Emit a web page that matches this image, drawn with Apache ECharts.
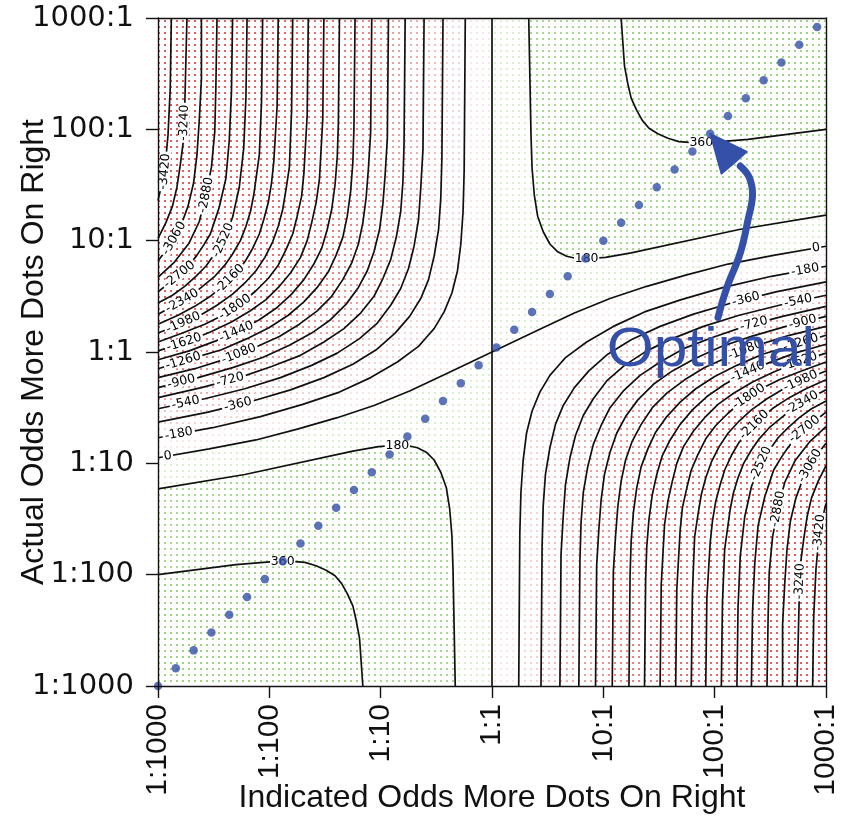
<!DOCTYPE html>
<html><head><meta charset="utf-8">
<script src="https://cdn.jsdelivr.net/npm/echarts/dist/echarts.min.js"></script>
<style>html,body{margin:0;padding:0;background:#fff}#chart{width:843px;height:819px}</style>
</head><body><div id="chart"></div>
<script>
// ---- axis ticks (log10 of odds) ----
const oddsTicks = [-3, -2, -1, 0, 1, 2, 3];
const oddsTickLabels = ['1:1000', '1:100', '1:10', '1:1', '10:1', '100:1', '1000:1'];

// ---- contour levels (points) ----
const contourLevels = [-3420, -3240, -3060, -2880, -2700, -2520, -2340, -2160, -1980, -1800, -1620, -1440, -1260, -1080, -900, -720, -540, -360, -180, 0, 180, 360];

// contour lines left of 1:1 indicated odds, [log10 indicated odds, log10 actual odds]
const westCurves = [
[[-3.00,1.36],[-2.94,1.62],[-2.91,1.95],[-2.89,2.37],[-2.88,3.00]],
[[-3.00,1.02],[-2.93,1.16],[-2.87,1.31],[-2.83,1.48],[-2.80,1.68],[-2.77,1.91],[-2.76,2.19],[-2.74,3.00]],
[[-3.00,0.82],[-2.89,0.96],[-2.80,1.12],[-2.73,1.31],[-2.68,1.52],[-2.65,1.77],[-2.63,2.07],[-2.61,2.45],[-2.61,3.00]],
[[-3.00,0.67],[-2.85,0.81],[-2.72,0.98],[-2.63,1.17],[-2.57,1.40],[-2.52,1.66],[-2.49,1.98],[-2.48,2.39],[-2.47,3.00]],
[[-3.00,0.54],[-2.90,0.62],[-2.80,0.70],[-2.72,0.78],[-2.65,0.87],[-2.59,0.96],[-2.53,1.06],[-2.49,1.18],[-2.45,1.30],[-2.39,1.56],[-2.36,1.90],[-2.34,2.34],[-2.33,3.00]],
[[-3.00,0.44],[-2.87,0.51],[-2.76,0.59],[-2.66,0.68],[-2.57,0.77],[-2.50,0.87],[-2.43,0.97],[-2.38,1.08],[-2.33,1.21],[-2.27,1.48],[-2.23,1.83],[-2.21,2.29],[-2.20,3.00]],
[[-3.00,0.34],[-2.85,0.42],[-2.71,0.50],[-2.60,0.59],[-2.49,0.68],[-2.40,0.78],[-2.33,0.88],[-2.26,1.00],[-2.21,1.13],[-2.17,1.26],[-2.14,1.41],[-2.09,1.77],[-2.07,2.25],[-2.06,3.00]],
[[-3.00,0.25],[-2.82,0.33],[-2.67,0.41],[-2.53,0.50],[-2.41,0.60],[-2.31,0.70],[-2.22,0.81],[-2.15,0.93],[-2.09,1.06],[-2.05,1.19],[-2.01,1.34],[-1.98,1.52],[-1.96,1.71],[-1.93,2.21],[-1.92,3.00]],
[[-3.00,0.17],[-2.80,0.25],[-2.62,0.33],[-2.47,0.42],[-2.33,0.52],[-2.22,0.62],[-2.12,0.73],[-2.04,0.85],[-1.97,0.99],[-1.92,1.13],[-1.88,1.28],[-1.85,1.46],[-1.82,1.66],[-1.80,2.17],[-1.79,3.00]],
[[-3.00,0.09],[-2.78,0.17],[-2.58,0.25],[-2.40,0.34],[-2.25,0.44],[-2.12,0.55],[-2.01,0.66],[-1.92,0.78],[-1.85,0.92],[-1.79,1.06],[-1.75,1.22],[-1.71,1.40],[-1.69,1.60],[-1.66,2.13],[-1.65,3.00]],
[[-3.00,0.01],[-2.75,0.09],[-2.53,0.18],[-2.34,0.27],[-2.17,0.37],[-2.03,0.47],[-1.91,0.59],[-1.81,0.71],[-1.72,0.85],[-1.66,1.00],[-1.62,1.16],[-1.58,1.34],[-1.55,1.55],[-1.52,2.09],[-1.51,3.00]],
[[-3.00,-0.07],[-2.72,0.01],[-2.48,0.10],[-2.27,0.19],[-2.09,0.29],[-1.93,0.40],[-1.80,0.52],[-1.69,0.65],[-1.60,0.79],[-1.53,0.93],[-1.48,1.10],[-1.44,1.28],[-1.41,1.50],[-1.39,1.75],[-1.38,2.05],[-1.37,3.00]],
[[-3.00,-0.15],[-2.70,-0.06],[-2.43,0.02],[-2.20,0.12],[-2.00,0.22],[-1.83,0.33],[-1.69,0.45],[-1.57,0.58],[-1.47,0.72],[-1.40,0.87],[-1.34,1.03],[-1.30,1.22],[-1.27,1.44],[-1.25,1.70],[-1.24,2.01],[-1.23,3.00]],
[[-3.00,-0.23],[-2.67,-0.15],[-2.38,-0.06],[-2.13,0.04],[-1.91,0.14],[-1.73,0.25],[-1.57,0.37],[-1.44,0.50],[-1.34,0.65],[-1.26,0.80],[-1.20,0.97],[-1.16,1.16],[-1.13,1.39],[-1.11,1.65],[-1.09,1.97],[-1.08,3.00]],
[[-3.00,-0.32],[-2.64,-0.23],[-2.33,-0.14],[-2.06,-0.05],[-1.82,0.06],[-1.62,0.17],[-1.45,0.29],[-1.31,0.43],[-1.20,0.58],[-1.12,0.73],[-1.06,0.90],[-1.01,1.10],[-0.98,1.33],[-0.96,1.59],[-0.94,1.92],[-0.93,3.00]],
[[-3.00,-0.41],[-2.61,-0.32],[-2.27,-0.23],[-1.98,-0.13],[-1.72,-0.03],[-1.51,0.09],[-1.33,0.21],[-1.18,0.35],[-1.06,0.50],[-0.98,0.66],[-0.91,0.83],[-0.86,1.03],[-0.82,1.26],[-0.80,1.53],[-0.79,1.87],[-0.78,3.00]],
[[-3.00,-0.51],[-2.58,-0.42],[-2.22,-0.33],[-1.90,-0.23],[-1.62,-0.12],[-1.39,-0.01],[-1.19,0.12],[-1.03,0.26],[-0.91,0.42],[-0.82,0.57],[-0.75,0.75],[-0.70,0.95],[-0.66,1.19],[-0.64,1.47],[-0.62,1.82],[-0.61,3.00]],
[[-3.00,-0.63],[-2.55,-0.54],[-2.15,-0.44],[-1.81,-0.34],[-1.51,-0.23],[-1.25,-0.11],[-1.04,0.02],[-0.87,0.17],[-0.74,0.32],[-0.64,0.48],[-0.57,0.65],[-0.52,0.86],[-0.48,1.10],[-0.46,1.38],[-0.45,1.74],[-0.44,3.00]],
[[-3.00,-0.77],[-2.51,-0.68],[-2.08,-0.58],[-1.70,-0.47],[-1.37,-0.36],[-1.09,-0.23],[-0.85,-0.09],[-0.66,0.05],[-0.59,0.13],[-0.52,0.21],[-0.43,0.36],[-0.36,0.53],[-0.31,0.73],[-0.28,0.97],[-0.26,1.26],[-0.25,1.63],[-0.24,3.00]],
[[-3.00,-0.95],[-2.54,-0.87],[-2.12,-0.79],[-1.74,-0.69],[-1.39,-0.59],[-1.06,-0.48],[-0.74,-0.35],[-0.42,-0.20],[0.00,0.00]],
[[-3.00,-1.23],[-2.22,-1.10],[-1.25,-0.89],[-1.02,-0.85],[-0.88,-0.84],[-0.76,-0.84],[-0.67,-0.86],[-0.59,-0.90],[-0.52,-0.97],[-0.46,-1.08],[-0.41,-1.22],[-0.38,-1.41],[-0.36,-1.65],[-0.35,-1.96],[-0.33,-3.00]],
[[-3.00,-2.00],[-2.30,-1.91],[-1.94,-1.88],[-1.80,-1.88],[-1.68,-1.89],[-1.58,-1.92],[-1.49,-1.96],[-1.41,-2.01],[-1.35,-2.08],[-1.30,-2.17],[-1.25,-2.28],[-1.22,-2.41],[-1.19,-2.57],[-1.16,-3.00]]
];

// contour lines right of 1:1 indicated odds
const eastCurves = [
[[3.00,-1.36],[2.94,-1.62],[2.91,-1.95],[2.89,-2.37],[2.88,-3.00]],
[[3.00,-1.02],[2.93,-1.16],[2.87,-1.31],[2.83,-1.48],[2.80,-1.68],[2.77,-1.91],[2.76,-2.19],[2.74,-3.00]],
[[3.00,-0.82],[2.89,-0.96],[2.80,-1.12],[2.73,-1.31],[2.68,-1.52],[2.65,-1.77],[2.63,-2.07],[2.61,-2.45],[2.61,-3.00]],
[[3.00,-0.67],[2.85,-0.81],[2.72,-0.98],[2.63,-1.17],[2.57,-1.40],[2.52,-1.66],[2.49,-1.98],[2.48,-2.39],[2.47,-3.00]],
[[3.00,-0.54],[2.90,-0.62],[2.80,-0.70],[2.72,-0.78],[2.65,-0.87],[2.59,-0.96],[2.53,-1.06],[2.49,-1.18],[2.45,-1.30],[2.39,-1.56],[2.36,-1.90],[2.34,-2.34],[2.33,-3.00]],
[[3.00,-0.44],[2.87,-0.51],[2.76,-0.59],[2.66,-0.68],[2.57,-0.77],[2.50,-0.87],[2.43,-0.97],[2.38,-1.08],[2.33,-1.21],[2.27,-1.48],[2.23,-1.83],[2.21,-2.29],[2.20,-3.00]],
[[3.00,-0.34],[2.85,-0.42],[2.71,-0.50],[2.60,-0.59],[2.49,-0.68],[2.40,-0.78],[2.33,-0.88],[2.26,-1.00],[2.21,-1.13],[2.17,-1.26],[2.14,-1.41],[2.09,-1.77],[2.07,-2.25],[2.06,-3.00]],
[[3.00,-0.25],[2.82,-0.33],[2.67,-0.41],[2.53,-0.50],[2.41,-0.60],[2.31,-0.70],[2.22,-0.81],[2.15,-0.93],[2.09,-1.06],[2.05,-1.19],[2.01,-1.34],[1.98,-1.52],[1.96,-1.71],[1.93,-2.21],[1.92,-3.00]],
[[3.00,-0.17],[2.80,-0.25],[2.62,-0.33],[2.47,-0.42],[2.33,-0.52],[2.22,-0.62],[2.12,-0.73],[2.04,-0.85],[1.97,-0.99],[1.92,-1.13],[1.88,-1.28],[1.85,-1.46],[1.82,-1.66],[1.80,-2.17],[1.79,-3.00]],
[[3.00,-0.09],[2.78,-0.17],[2.58,-0.25],[2.40,-0.34],[2.25,-0.44],[2.12,-0.55],[2.01,-0.66],[1.92,-0.78],[1.85,-0.92],[1.79,-1.06],[1.75,-1.22],[1.71,-1.40],[1.69,-1.60],[1.66,-2.13],[1.65,-3.00]],
[[3.00,-0.01],[2.75,-0.09],[2.53,-0.18],[2.34,-0.27],[2.17,-0.37],[2.03,-0.47],[1.91,-0.59],[1.81,-0.71],[1.72,-0.85],[1.66,-1.00],[1.62,-1.16],[1.58,-1.34],[1.55,-1.55],[1.52,-2.09],[1.51,-3.00]],
[[3.00,0.07],[2.72,-0.01],[2.48,-0.10],[2.27,-0.19],[2.09,-0.29],[1.93,-0.40],[1.80,-0.52],[1.69,-0.65],[1.60,-0.79],[1.53,-0.93],[1.48,-1.10],[1.44,-1.28],[1.41,-1.50],[1.39,-1.75],[1.38,-2.05],[1.37,-3.00]],
[[3.00,0.15],[2.70,0.06],[2.43,-0.02],[2.20,-0.12],[2.00,-0.22],[1.83,-0.33],[1.69,-0.45],[1.57,-0.58],[1.47,-0.72],[1.40,-0.87],[1.34,-1.03],[1.30,-1.22],[1.27,-1.44],[1.25,-1.70],[1.24,-2.01],[1.23,-3.00]],
[[3.00,0.23],[2.67,0.15],[2.38,0.06],[2.13,-0.04],[1.91,-0.14],[1.73,-0.25],[1.57,-0.37],[1.44,-0.50],[1.34,-0.65],[1.26,-0.80],[1.20,-0.97],[1.16,-1.16],[1.13,-1.39],[1.11,-1.65],[1.09,-1.97],[1.08,-3.00]],
[[3.00,0.32],[2.64,0.23],[2.33,0.14],[2.06,0.05],[1.82,-0.06],[1.62,-0.17],[1.45,-0.29],[1.31,-0.43],[1.20,-0.58],[1.12,-0.73],[1.06,-0.90],[1.01,-1.10],[0.98,-1.33],[0.96,-1.59],[0.94,-1.92],[0.93,-3.00]],
[[3.00,0.41],[2.61,0.32],[2.27,0.23],[1.98,0.13],[1.72,0.03],[1.51,-0.09],[1.33,-0.21],[1.18,-0.35],[1.06,-0.50],[0.98,-0.66],[0.91,-0.83],[0.86,-1.03],[0.82,-1.26],[0.80,-1.53],[0.79,-1.87],[0.78,-3.00]],
[[3.00,0.51],[2.58,0.42],[2.22,0.33],[1.90,0.23],[1.62,0.12],[1.39,0.01],[1.19,-0.12],[1.03,-0.26],[0.91,-0.42],[0.82,-0.57],[0.75,-0.75],[0.70,-0.95],[0.66,-1.19],[0.64,-1.47],[0.62,-1.82],[0.61,-3.00]],
[[3.00,0.63],[2.55,0.54],[2.15,0.44],[1.81,0.34],[1.51,0.23],[1.25,0.11],[1.04,-0.02],[0.87,-0.17],[0.74,-0.32],[0.64,-0.48],[0.57,-0.65],[0.52,-0.86],[0.48,-1.10],[0.46,-1.38],[0.45,-1.74],[0.44,-3.00]],
[[3.00,0.77],[2.51,0.68],[2.08,0.58],[1.70,0.47],[1.37,0.36],[1.09,0.23],[0.85,0.09],[0.66,-0.05],[0.59,-0.13],[0.52,-0.21],[0.43,-0.36],[0.36,-0.53],[0.31,-0.73],[0.28,-0.97],[0.26,-1.26],[0.25,-1.63],[0.24,-3.00]],
[[3.00,0.95],[2.54,0.87],[2.12,0.79],[1.74,0.69],[1.39,0.59],[1.06,0.48],[0.74,0.35],[0.42,0.20],[0.00,0.00]],
[[3.00,1.23],[2.22,1.10],[1.25,0.89],[1.02,0.85],[0.88,0.84],[0.76,0.84],[0.67,0.86],[0.59,0.90],[0.52,0.97],[0.46,1.08],[0.41,1.22],[0.38,1.41],[0.36,1.65],[0.35,1.96],[0.33,3.00]],
[[3.00,2.00],[2.30,1.91],[1.94,1.88],[1.80,1.88],[1.68,1.89],[1.58,1.92],[1.49,1.96],[1.41,2.01],[1.35,2.08],[1.30,2.17],[1.25,2.28],[1.22,2.41],[1.19,2.57],[1.16,3.00]]
];

// the 0-point contour also runs straight up the 1:1 indicated odds line
const zeroDivider = [[0, -3], [0, 3]];

// where each contour label sits (approximate, snapped onto its line)
const westLabelSpots = [[-2.93,1.62],[-2.78,2.06],[-2.87,1.03],[-2.57,1.41],[-2.82,0.71],[-2.43,1.01],[-2.79,0.47],[-2.37,0.67],[-2.78,0.28],[-2.32,0.42],[-2.78,0.13],[-2.31,0.21],[-2.78,-0.06],[-2.28,0.00],[-2.79,-0.27],[-2.35,-0.26],[-2.75,-0.46],[-2.28,-0.48],[-2.82,-0.70],[-2.91,-0.94],[-0.85,-0.85],[-1.88,-1.88]];
const eastLabelSpots = [[2.93,-1.62],[2.78,-2.06],[2.87,-1.03],[2.57,-1.41],[2.82,-0.71],[2.43,-1.01],[2.79,-0.47],[2.37,-0.67],[2.78,-0.28],[2.32,-0.42],[2.78,-0.13],[2.31,-0.21],[2.78,0.06],[2.28,0.00],[2.79,0.27],[2.35,0.26],[2.75,0.46],[2.28,0.48],[2.82,0.70],[2.91,0.94],[0.85,0.85],[1.88,1.88]];

// blue points: indicated odds equal to actual odds
const dotsIndicated = [-3.00,-2.84,-2.68,-2.52,-2.36,-2.20,-2.04,-1.88,-1.72,-1.56,-1.40,-1.24,-1.08,-0.92,-0.76,-0.60,-0.44,-0.28,-0.12,0.04,0.20,0.36,0.52,0.68,0.84,1.00,1.16,1.32,1.48,1.64,1.80,1.96,2.12,2.28,2.44,2.60,2.76,2.92];
const dotsActual    = [-3.00,-2.84,-2.68,-2.52,-2.36,-2.20,-2.04,-1.88,-1.72,-1.56,-1.40,-1.24,-1.08,-0.92,-0.76,-0.60,-0.44,-0.28,-0.12,0.04,0.20,0.36,0.52,0.68,0.84,1.00,1.16,1.32,1.48,1.64,1.80,1.96,2.12,2.28,2.44,2.60,2.76,2.92];

// "Optimal" annotation (data coordinates)
const arrowShaft = [[2.03,0.31],[2.11,0.58],[2.23,0.89],[2.30,1.19],[2.34,1.41],[2.31,1.57],[2.23,1.67]];
const arrowHead = [[1.96,1.96],[2.29,1.80],[2.18,1.70],[2.06,1.60]];
const optimalTextSpot = [1.03, 0.01];

// ---- styles ----
const redDotColors = ['#f9e6e6','#f6d2d2','#f3bebe','#f1adad','#ef9e9e','#ee9191','#ec8686','#eb7e7e','#ea7777','#ea7272','#e96e6e','#e96a6a','#e86767','#e86464','#e76262','#e76060','#e65e5e','#e65c5c','#e55a5a','#e55858'];
const greenDotColors = ['#dbeecd','#a8da8e','#9cd480'];
const INK = '#111111';
const BLUE = '#3450a8';

function dotPattern(color){
  const c = document.createElement('canvas'); c.width = 6; c.height = 6;
  const g = c.getContext('2d'); g.fillStyle = color; g.fillRect(2, 2, 2, 2);
  return { image: c, repeat: 'repeat' };
}

const lo = oddsTicks[0], hi = oddsTicks[oddsTicks.length - 1];
const bands = [];
contourLevels.filter(l => l <= 0).sort((a, b) => b - a).forEach((L, k) => {
  const i = contourLevels.indexOf(L), pat = dotPattern(redDotColors[k]);
  if (L === 0) {
    bands.push({ pts: westCurves[i].concat([[0, hi], [lo, hi]]), pat });
    bands.push({ pts: eastCurves[i].concat([[0, lo], [hi, lo]]), pat });
  } else {
    bands.push({ pts: westCurves[i].concat([[lo, hi]]), pat });
    bands.push({ pts: eastCurves[i].concat([[hi, lo]]), pat });
  }
});
contourLevels.filter(l => l >= 0).forEach((L, k) => {
  const i = contourLevels.indexOf(L), pat = dotPattern(greenDotColors[k]);
  if (L === 0) {
    bands.push({ pts: westCurves[i].concat([[0, lo], [lo, lo]]), pat });
    bands.push({ pts: eastCurves[i].concat([[0, hi], [hi, hi]]), pat });
  } else {
    bands.push({ pts: westCurves[i].concat([[lo, lo]]), pat });
    bands.push({ pts: eastCurves[i].concat([[hi, hi]]), pat });
  }
});

const labelItems = [];
contourLevels.forEach((L, i) => {
  labelItems.push({ text: String(L), curve: westCurves[i], spot: westLabelSpots[i] });
  labelItems.push({ text: String(L), curve: eastCurves[i], spot: eastLabelSpots[i] });
});

const series = [];
series.push({
  type: 'custom', coordinateSystem: 'cartesian2d', silent: true, z: 1, clip: true,
  data: bands.map(() => [0, 0]),
  renderItem: (params, api) => {
    const b = bands[params.dataIndex];
    return { type: 'polygon', shape: { points: b.pts.map(p => api.coord(p)) }, style: { fill: b.pat, stroke: null } };
  }
});
const lineCommon = { type: 'line', symbol: 'none', showSymbol: false, silent: true, z: 2, clip: true,
  lineStyle: { color: INK, width: 1.7 }, emphasis: { disabled: true } };
contourLevels.forEach((L, i) => {
  series.push(Object.assign({ name: 'c' + L + 'w', data: westCurves[i] }, lineCommon));
  series.push(Object.assign({ name: 'c' + L + 'e', data: eastCurves[i] }, lineCommon));
});
series.push(Object.assign({ name: 'c0v', data: zeroDivider }, lineCommon));

series.push({
  type: 'custom', coordinateSystem: 'cartesian2d', silent: true, z: 3,
  data: labelItems.map(() => [0, 0]),
  renderItem: (params, api) => {
    const it = labelItems[params.dataIndex];
    const pts = it.curve.map(p => api.coord(p));
    const P = api.coord(it.spot);
    let best = null;
    for (let i = 0; i < pts.length - 1; i++) {
      const A = pts[i], B = pts[i + 1];
      const dx = B[0] - A[0], dy = B[1] - A[1];
      const l2 = dx * dx + dy * dy || 1e-9;
      let t = ((P[0] - A[0]) * dx + (P[1] - A[1]) * dy) / l2;
      t = Math.max(0, Math.min(1, t));
      const Q = [A[0] + t * dx, A[1] + t * dy];
      const d = Math.hypot(Q[0] - P[0], Q[1] - P[1]);
      if (!best || d < best.d) best = { d, Q, dx, dy };
    }
    let ang = Math.atan2(-best.dy, best.dx);
    if (ang > Math.PI / 2) ang -= Math.PI;
    if (ang <= -Math.PI / 2) ang += Math.PI;
    const w = it.text.length * 7.4 + 3;
    return {
      type: 'group', x: best.Q[0], y: best.Q[1], rotation: ang,
      children: [
        { type: 'rect', shape: { x: -w / 2, y: -5, width: w, height: 10 }, style: { fill: '#ffffff' } },
        { type: 'text', style: { text: it.text, x: 0, y: 0, align: 'center', verticalAlign: 'middle', font: '12.5px "DejaVu Sans"', fill: '#000' } }
      ]
    };
  }
});

series.push({
  type: 'scatter', silent: true, z: 4,
  data: dotsIndicated.map((x, i) => [x, dotsActual[i]]),
  symbol: 'circle', symbolSize: 8.5, itemStyle: { color: BLUE }
});

series.push({
  type: 'custom', coordinateSystem: 'cartesian2d', silent: true, z: 5,
  data: [[0, 0]],
  renderItem: (params, api) => {
    const shaft = arrowShaft.map(p => api.coord(p));
    const head = arrowHead.map(p => api.coord(p));
    const tp = api.coord(optimalTextSpot);
    return {
      type: 'group', children: [
        { type: 'polyline', shape: { points: shaft, smooth: 0.4 }, style: { stroke: BLUE, lineWidth: 7, fill: null, lineCap: 'round' } },
        { type: 'polygon', shape: { points: head }, style: { fill: BLUE, stroke: BLUE, lineWidth: 1.5, lineJoin: 'round' } },
        { type: 'text', x: tp[0], y: tp[1], scaleX: 1.08, style: { text: 'Optimal', x: 0, y: 0, align: 'left', verticalAlign: 'middle', font: '56px "Liberation Sans"', fill: BLUE } }
      ]
    };
  }
});

const axisFont = 'Liberation Sans';
const option = {
  animation: false,
  backgroundColor: '#ffffff',
  grid: { left: 158, top: 18, width: 668, height: 668, show: false, outerBoundsMode: 'none', containLabel: false },
  xAxis: [{
    type: 'value', min: lo, max: hi, interval: 1, z: 10,
    axisLine: { show: true, onZero: false, lineStyle: { color: INK, width: 1.4 } },
    axisTick: { show: true, length: 12, lineStyle: { color: INK, width: 1.4 } },
    axisLabel: { rotate: 90, margin: 18, fontFamily: axisFont, fontSize: 30, color: INK,
      formatter: v => oddsTickLabels[oddsTicks.indexOf(v)] },
    splitLine: { show: false },
    name: 'Indicated Odds More Dots On Right', nameLocation: 'middle', nameGap: 96, nameMoveOverlap: false,
    nameTextStyle: { fontFamily: axisFont, fontSize: 32, color: INK }
  }, {
    type: 'value', min: lo, max: hi, position: 'top', z: 10,
    axisLine: { show: true, onZero: false, lineStyle: { color: INK, width: 1.4 } },
    axisTick: { show: false }, axisLabel: { show: false }, splitLine: { show: false }
  }],
  yAxis: [{
    type: 'value', min: lo, max: hi, interval: 1, z: 10,
    axisLine: { show: true, onZero: false, lineStyle: { color: INK, width: 1.4 } },
    axisTick: { show: true, length: 12, lineStyle: { color: INK, width: 1.4 } },
    axisLabel: { margin: 24, fontFamily: 'DejaVu Sans', fontSize: 29, color: INK,
      formatter: v => oddsTickLabels[oddsTicks.indexOf(v)] },
    splitLine: { show: false },
    name: 'Actual Odds More Dots On Right', nameLocation: 'middle', nameGap: 108, nameRotate: 90, nameMoveOverlap: false,
    nameTextStyle: { fontFamily: axisFont, fontSize: 32, color: INK }
  }, {
    type: 'value', min: lo, max: hi, position: 'right', z: 10,
    axisLine: { show: true, onZero: false, lineStyle: { color: INK, width: 1.4 } },
    axisTick: { show: false }, axisLabel: { show: false }, splitLine: { show: false }
  }],
  series: series
};
const chart = echarts.init(document.getElementById('chart'), null, { renderer: 'canvas' });
chart.setOption(option);
</script></body></html>
